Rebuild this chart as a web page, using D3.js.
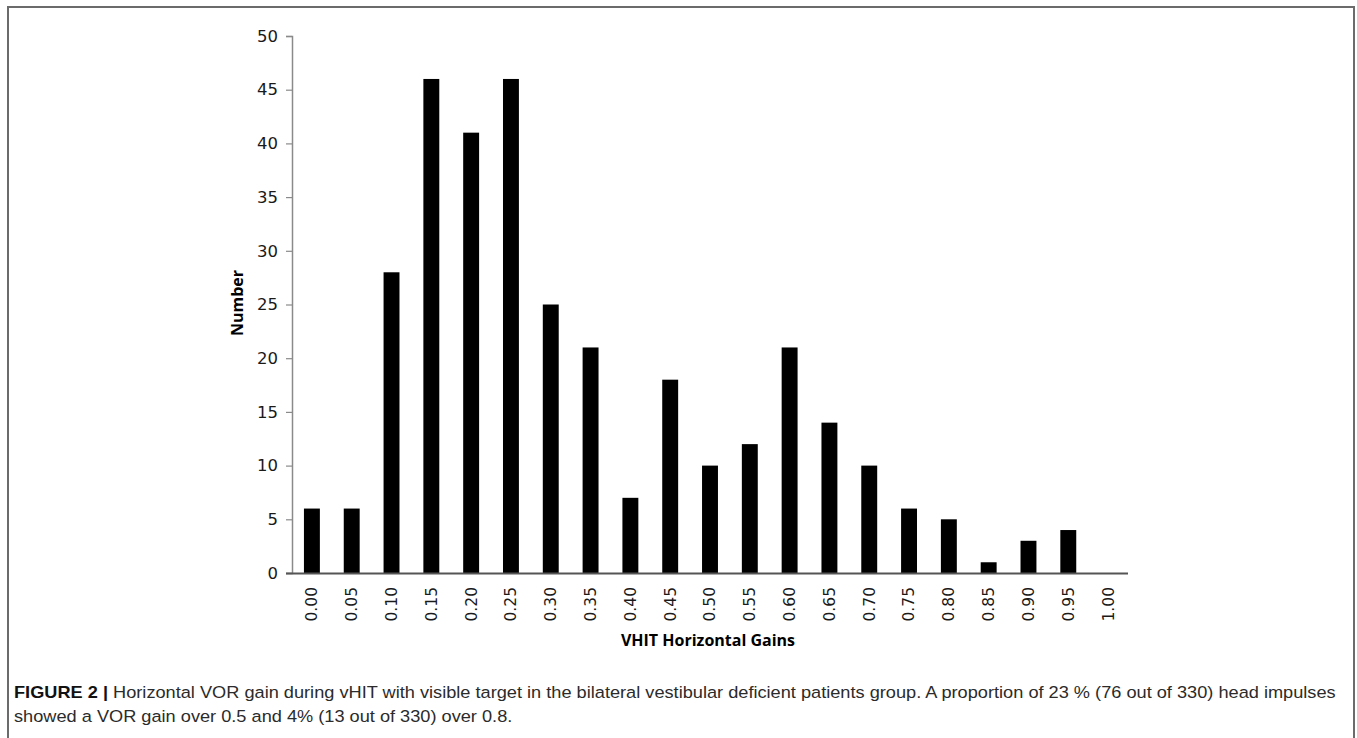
<!DOCTYPE html>
<html>
<head>
<meta charset="utf-8">
<script src="https://cdn.jsdelivr.net/npm/d3@7"></script>
<style>
  html, body { margin: 0; padding: 0; background: #fff; }
  svg { display: block; }
</style>
</head>
<body>
<svg id="chart" width="1357" height="738"></svg>
<script>
const categories = ["0.00","0.05","0.10","0.15","0.20","0.25","0.30","0.35","0.40","0.45","0.50","0.55","0.60","0.65","0.70","0.75","0.80","0.85","0.90","0.95","1.00"];
const counts = [6,6,28,46,41,46,25,21,7,18,10,12,21,14,10,6,5,1,3,4,0];
const yTicks = [0,5,10,15,20,25,30,35,40,45,50];
const yLabel = "Number";
const xLabel = "VHIT Horizontal Gains";
const captionBold = "FIGURE 2 |";
const captionLine1 = " Horizontal VOR gain during vHIT with visible target in the bilateral vestibular deficient patients group. A proportion of 23 % (76 out of 330) head impulses";
const captionLine2 = "showed a VOR gain over 0.5 and 4% (13 out of 330) over 0.8.";

const svg = d3.select("#chart");

// Frame (left, top, right)
svg.append("path")
  .attr("d", "M8,738 L8,7 L1354,7 L1354,738")
  .attr("fill", "none").attr("stroke", "#6b6b6b").attr("stroke-width", 2);

const plot = { left: 292, right: 1128, top: 36, bottom: 573 };

const x = d3.scaleBand().domain(categories).range([plot.left, plot.right]).paddingInner(0.6).paddingOuter(0.3);
const y = d3.scaleLinear().domain([0, 50]).range([plot.bottom, plot.top]);

const tickFont = "'DejaVu Sans', 'Open Sans', sans-serif";
const titleFont = "'Open Sans', 'Noto Sans', sans-serif";

// Bars
svg.append("g").selectAll("rect").data(counts).join("rect")
  .attr("x", (d, i) => x(categories[i]))
  .attr("y", d => y(d))
  .attr("width", x.bandwidth())
  .attr("height", d => y(0) - y(d))
  .attr("fill", "#000");

// Y axis
const yAxis = svg.append("g").attr("transform", `translate(${plot.left},0)`)
  .call(d3.axisLeft(y).tickValues(yTicks).tickSize(6).tickPadding(8));
yAxis.select(".domain").attr("stroke", "#8a8a8a").attr("stroke-width", 1.5);
yAxis.selectAll(".tick line").attr("stroke", "#8a8a8a").attr("stroke-width", 1.2);
yAxis.selectAll(".tick text").attr("font-family", tickFont).attr("font-size", 16.5).attr("fill", "#1a1a1a");

// X axis
const xAxis = svg.append("g").attr("transform", `translate(0,${plot.bottom})`)
  .call(d3.axisBottom(x).tickSize(0).tickPadding(0).tickSizeOuter(0));
xAxis.select(".domain").attr("d", `M${plot.left - 6},0.5H${plot.right}`).attr("stroke", "#555").attr("stroke-width", 1.8);
xAxis.selectAll(".tick text")
  .attr("font-family", tickFont).attr("font-size", 15.5).attr("fill", "#1a1a1a")
  .attr("transform", "rotate(-90)")
  .attr("text-anchor", "end")
  .attr("x", -14).attr("y", 0).attr("dy", "0.35em");

// Axis titles
svg.append("text")
  .attr("transform", "translate(243,303) rotate(-90)")
  .attr("text-anchor", "middle")
  .attr("font-family", titleFont).attr("font-weight", "bold").attr("font-size", 16).attr("fill", "#000")
  .text(yLabel);
svg.append("text")
  .attr("x", 708).attr("y", 646)
  .attr("text-anchor", "middle")
  .attr("font-family", titleFont).attr("font-weight", "bold").attr("font-size", 16).attr("fill", "#000")
  .text(xLabel);

// Caption
const capFont = "'Liberation Sans Narrow', 'Liberation Sans', Arial, sans-serif";
const cap = svg.append("g");
const t1 = cap.append("text").attr("x", 0).attr("y", 0)
  .attr("font-family", capFont).attr("font-size", 16.5).attr("fill", "#2b2b2b");
t1.append("tspan").attr("font-weight", "bold").attr("fill", "#111").text(captionBold);
t1.append("tspan").text(captionLine1);
const t2 = cap.append("text").attr("x", 0).attr("y", 24)
  .attr("font-family", capFont).attr("font-size", 16.5).attr("fill", "#2b2b2b")
  .text(captionLine2);
const w = t1.node().getComputedTextLength();
const sx = (1336 - 14) / w;
cap.attr("transform", `translate(14,698) scale(${sx},1)`);
</script>
</body>
</html>
